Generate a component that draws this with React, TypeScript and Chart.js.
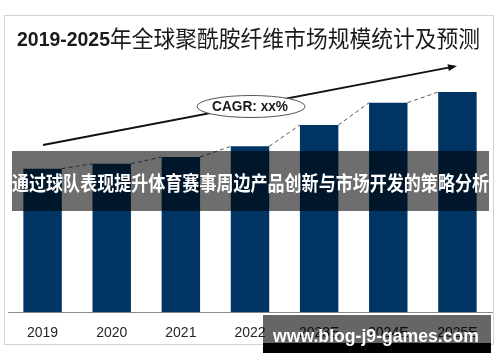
import React, { useEffect, useRef } from "react";
import { Chart, registerables } from "chart.js";

Chart.register(...registerables);

const categories = ["2019", "2020", "2021", "2022", "2023E", "2024E", "2025E"];
const marketSize = [148, 153, 160, 171, 193, 216, 227];
const titleNumber = "2019-2025";
const titleText = "年全球聚酰胺纤维市场规模统计及预测";
const cagrLabel = "CAGR: xx%";
const bannerText = "通过球队表现提升体育赛事周边产品创新与市场开发的策略分析";
const watermarkText = "www.blog-j9-games.com";

const decorPlugin = {
  id: "decor",
  beforeDraw(chart: any) {
    const ctx = chart.ctx;
    ctx.save();
    ctx.fillStyle = "#ffffff";
    ctx.fillRect(0, 0, chart.width, chart.height);
    ctx.strokeStyle = "#d4d4d4";
    ctx.lineWidth = 1;
    ctx.strokeRect(4.5, 15.5, 489, 329);
    // title
    ctx.textBaseline = "alphabetic";
    ctx.fillStyle = "#1a1a1a";
    ctx.textAlign = "left";
    ctx.font = "bold 20px 'Liberation Sans', Arial, sans-serif";
    ctx.fillText(titleNumber, 17, 46, 93);
    ctx.font = "23px 'Noto Sans CJK SC', sans-serif";
    ctx.fillText(titleText, 110, 47, 370);
    ctx.restore();
  },
  afterDatasetsDraw(chart: any) {
    const ctx = chart.ctx;
    const meta = chart.getDatasetMeta(0);
    ctx.save();
    // dashed connectors between bar tops
    ctx.strokeStyle = "#5a5a5a";
    ctx.lineWidth = 1;
    ctx.setLineDash([4, 3]);
    for (let i = 0; i < meta.data.length - 1; i++) {
      const a = meta.data[i];
      const b = meta.data[i + 1];
      ctx.beginPath();
      ctx.moveTo(a.x + a.width / 2, a.y);
      ctx.lineTo(b.x - b.width / 2, b.y);
      ctx.stroke();
    }
    ctx.setLineDash([]);
    // trend arrow
    const x0 = 43, y0 = 145, x1 = 457, y1 = 66;
    const ang = Math.atan2(y1 - y0, x1 - x0);
    ctx.strokeStyle = "#111";
    ctx.lineWidth = 2;
    ctx.beginPath();
    ctx.moveTo(x0, y0);
    ctx.lineTo(x1 - 6 * Math.cos(ang), y1 - 6 * Math.sin(ang));
    ctx.stroke();
    ctx.fillStyle = "#111";
    ctx.beginPath();
    ctx.moveTo(x1, y1);
    ctx.lineTo(x1 - 9 * Math.cos(ang) + 3.5 * Math.sin(ang), y1 - 9 * Math.sin(ang) - 3.5 * Math.cos(ang));
    ctx.lineTo(x1 - 9 * Math.cos(ang) - 3.5 * Math.sin(ang), y1 - 9 * Math.sin(ang) + 3.5 * Math.cos(ang));
    ctx.closePath();
    ctx.fill();
    // CAGR ellipse
    ctx.beginPath();
    ctx.ellipse(251, 106.5, 54, 11, 0, 0, Math.PI * 2);
    ctx.fillStyle = "#ffffff";
    ctx.fill();
    ctx.strokeStyle = "#555";
    ctx.lineWidth = 1;
    ctx.stroke();
    ctx.fillStyle = "#1a1a1a";
    ctx.font = "bold 15px 'Liberation Sans', Arial, sans-serif";
    ctx.textAlign = "center";
    ctx.textBaseline = "middle";
    ctx.fillText(cagrLabel, 250, 107, 76);
    ctx.restore();
  },
  afterDraw(chart: any) {
    const ctx = chart.ctx;
    ctx.save();
    // banner overlay
    ctx.fillStyle = "rgba(0,0,0,0.57)";
    ctx.fillRect(12, 151, 477, 60);
    ctx.fillStyle = "#ffffff";
    ctx.font = "bold 20px 'Noto Sans CJK SC', sans-serif";
    ctx.textAlign = "center";
    ctx.textBaseline = "middle";
    ctx.fillText(bannerText, 250.5, 183, 477);
    // watermark
    ctx.fillStyle = "rgba(0,0,0,0.6)";
    ctx.fillRect(263, 315, 228, 28);
    ctx.fillStyle = "#000000";
    ctx.fillRect(263, 343, 228, 10);
    ctx.fillStyle = "#ffffff";
    ctx.font = "bold 18px 'Liberation Sans', Arial, sans-serif";
    ctx.fillText(watermarkText, 376, 337, 206);
    ctx.restore();
  },
};

export default function App() {
  const ref = useRef<HTMLCanvasElement | null>(null);
  useEffect(() => {
    document.body.style.margin = "0";
    if (!ref.current) return;
    const chart = new Chart(ref.current, {
      type: "bar",
      data: {
        labels: categories,
        datasets: [
          {
            data: marketSize,
            backgroundColor: "#003463",
            categoryPercentage: 1,
            barPercentage: 0.556,
          },
        ],
      },
      options: {
        responsive: false,
        animation: false,
        layout: { padding: { top: 60, left: 8, right: 8, bottom: 15 } },
        plugins: { legend: { display: false }, tooltip: { enabled: false }, title: { display: false } },
        scales: {
          x: {
            grid: { display: false },
            border: { display: true, color: "#8c8c8c", width: 1 },
            ticks: {
              padding: 5,
              color: "#262626",
              font: { size: 14, family: "'Liberation Sans', Arial, sans-serif" },
            },
          },
          y: { display: false, min: 0, max: 260 },
        },
      },
      plugins: [decorPlugin],
    });
    return () => chart.destroy();
  }, []);
  return (
    <div style={{ position: "absolute", left: 0, top: 0, width: 500, height: 362 }}>
      <canvas ref={ref} width={500} height={362} />
    </div>
  );
}
